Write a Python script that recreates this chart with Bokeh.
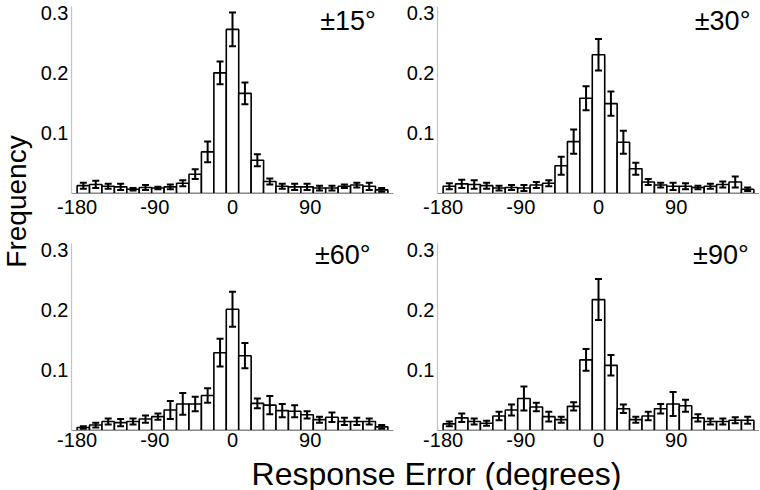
from bokeh.plotting import figure
from bokeh.models import Range1d, FixedTicker, Whisker, TeeHead, ColumnDataSource, Label
from bokeh.layouts import row, column
from bokeh.embed import file_html
from bokeh.resources import INLINE

# ---- data ----
bin_centers = [-172.8, -158.4, -144.0, -129.6, -115.2, -100.8, -86.4, -72.0, -57.6,
               -43.2, -28.8, -14.4, 0.0, 14.4, 28.8, 43.2, 57.6, 72.0, 86.4, 100.8,
               115.2, 129.6, 144.0, 158.4, 172.8]
bin_width = 14.4

panel_titles = ["±15°", "±30°", "±60°", "±90°"]
x_ticks = [-180, -90, 0, 90]
x_tick_labels = ["-180", "-90", "0", "90"]
y_ticks = [0.1, 0.2, 0.3]
y_tick_labels = ["0.1", "0.2", "0.3"]
x_label = "Response Error (degrees)"
y_label = "Frequency"

freq_15 = [0.013, 0.015, 0.012, 0.011, 0.007, 0.010, 0.009, 0.011, 0.017, 0.032, 0.069, 0.200,
           0.272, 0.166, 0.055, 0.020, 0.012, 0.011, 0.011, 0.009, 0.009, 0.012, 0.014, 0.012, 0.006]
err_15 = [0.005, 0.006, 0.004, 0.005, 0.002, 0.004, 0.002, 0.004, 0.005, 0.008, 0.017, 0.019,
          0.028, 0.018, 0.010, 0.005, 0.004, 0.005, 0.005, 0.004, 0.004, 0.003, 0.004, 0.006, 0.003]

freq_30 = [0.012, 0.016, 0.015, 0.013, 0.009, 0.010, 0.009, 0.014, 0.017, 0.046, 0.086, 0.158,
           0.230, 0.149, 0.085, 0.041, 0.019, 0.014, 0.012, 0.012, 0.010, 0.012, 0.015, 0.019, 0.007]
err_30 = [0.005, 0.007, 0.007, 0.005, 0.004, 0.004, 0.005, 0.005, 0.005, 0.015, 0.020, 0.020,
          0.026, 0.020, 0.019, 0.010, 0.005, 0.004, 0.006, 0.005, 0.003, 0.004, 0.005, 0.009, 0.003]

freq_60 = [0.005, 0.009, 0.015, 0.013, 0.015, 0.019, 0.023, 0.034, 0.044, 0.044, 0.058, 0.129,
           0.201, 0.124, 0.045, 0.042, 0.033, 0.032, 0.026, 0.018, 0.022, 0.015, 0.015, 0.015, 0.006]
err_60 = [0.002, 0.004, 0.005, 0.006, 0.005, 0.006, 0.005, 0.015, 0.018, 0.012, 0.012, 0.023,
          0.029, 0.021, 0.008, 0.015, 0.011, 0.010, 0.006, 0.005, 0.008, 0.006, 0.006, 0.005, 0.003]

freq_90 = [0.011, 0.021, 0.015, 0.012, 0.024, 0.034, 0.053, 0.039, 0.023, 0.018, 0.040, 0.117,
           0.217, 0.108, 0.036, 0.018, 0.024, 0.036, 0.044, 0.041, 0.021, 0.015, 0.015, 0.017, 0.017]
err_90 = [0.004, 0.007, 0.005, 0.004, 0.007, 0.009, 0.020, 0.007, 0.008, 0.005, 0.007, 0.018,
          0.034, 0.017, 0.007, 0.005, 0.007, 0.008, 0.020, 0.010, 0.006, 0.005, 0.005, 0.005, 0.006]

FONT = "Liberation Sans"


def make_panel(freqs, errs, title, width, height, bl, br, bt, bb, standoff, tx, ty):
    p = figure(width=width, height=height, output_backend="svg", toolbar_location=None,
               x_range=Range1d(-186.5, 186.5), y_range=Range1d(0, 0.31),
               min_border_left=bl, min_border_right=br, min_border_top=bt, min_border_bottom=bb)
    p.xgrid.visible = False
    p.ygrid.visible = False
    p.outline_line_color = None
    p.background_fill_color = "white"

    p.vbar(x=bin_centers, width=bin_width, top=freqs, bottom=0,
           fill_color="white", line_color="black", line_width=1.6)

    src = ColumnDataSource(dict(
        x=bin_centers,
        upper=[f + e for f, e in zip(freqs, errs)],
        lower=[f - e for f, e in zip(freqs, errs)],
    ))
    w = Whisker(base="x", upper="upper", lower="lower", source=src, level="overlay",
                line_color="black", line_width=2,
                upper_head=TeeHead(size=7, line_width=2, line_color="black"),
                lower_head=TeeHead(size=7, line_width=2, line_color="black"))
    p.add_layout(w)

    p.xaxis.ticker = FixedTicker(ticks=x_ticks)
    p.xaxis.major_label_overrides = dict(zip(x_ticks, x_tick_labels))
    p.yaxis.ticker = FixedTicker(ticks=y_ticks)
    p.yaxis.major_label_overrides = dict(zip(y_ticks, y_tick_labels))
    for ax in (p.xaxis, p.yaxis):
        ax.major_tick_out = 0
        ax.major_tick_in = 0
        ax.minor_tick_out = 0
        ax.minor_tick_in = 0
        ax.major_label_text_font = FONT
        ax.major_label_text_font_size = "20px"
        ax.major_label_text_color = "black"
    p.xaxis.axis_line_color = "#8c8c8c"
    p.xaxis.axis_line_width = 1.2
    p.yaxis.axis_line_color = "#c4c4c4"
    p.yaxis.axis_line_width = 1.2
    p.xaxis.major_label_standoff = standoff
    p.yaxis.major_label_standoff = 3

    p.add_layout(Label(x=tx, y=ty, text=title, text_align="right", text_baseline="middle",
                       text_font=FONT, text_font_size="27px", text_color="black"))
    return p


# top row: frames y 6..193 ; bottom row: frames y 243..430
p1 = make_panel(freq_15, err_15, panel_titles[0], 364, 226, 37, 5, 6, 33, 6, 166, 0.286)
p2 = make_panel(freq_30, err_30, panel_titles[1], 361, 226, 39, 0, 6, 33, 6, 176, 0.286)
p3 = make_panel(freq_60, err_60, panel_titles[2], 364, 229, 37, 5, 17, 25, 2, 160, 0.291)
p4 = make_panel(freq_90, err_90, panel_titles[3], 361, 229, 39, 0, 17, 25, 2, 174, 0.291)


def text_fig(w, h):
    f = figure(width=w, height=h, output_backend="svg", toolbar_location=None,
               x_range=Range1d(0, w), y_range=Range1d(0, h),
               min_border=0, x_axis_location=None, y_axis_location=None)
    f.xgrid.visible = False
    f.ygrid.visible = False
    f.outline_line_color = None
    return f


ylab = text_fig(34, 455)
ylab.add_layout(Label(x=16, y=455 - 201, text=y_label, angle=1.5707963, text_align="center",
                      text_baseline="middle", text_font=FONT, text_font_size="28px",
                      text_color="black"))

xlab = text_fig(759, 35)
xlab.add_layout(Label(x=436, y=17, text=x_label, text_align="center", text_baseline="middle",
                      text_font=FONT, text_font_size="32px", text_color="black"))

layout = column(row(ylab, column(row(p1, p2), row(p3, p4))), xlab)

open("out.html", "w").write(file_html(layout, INLINE))
